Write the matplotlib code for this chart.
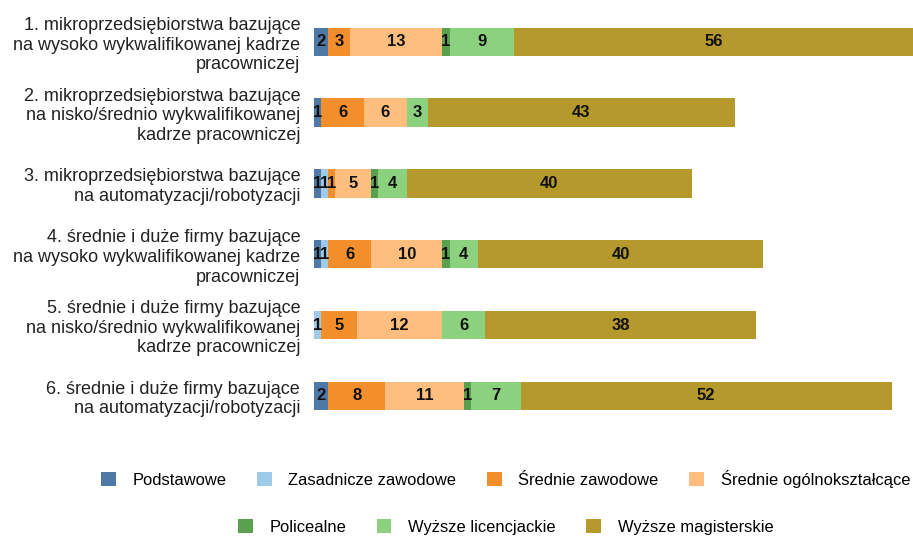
import numpy as np
import matplotlib
matplotlib.use("Agg")
import matplotlib.pyplot as plt
from matplotlib.patches import Patch

plt.rcParams['font.family'] = ['Liberation Sans', 'DejaVu Sans']

# categories (top to bottom)
categories = [
    "1. mikroprzedsiębiorstwa bazujące\nna wysoko wykwalifikowanej kadrze\npracowniczej",
    "2. mikroprzedsiębiorstwa bazujące\nna nisko/średnio wykwalifikowanej\nkadrze pracowniczej",
    "3. mikroprzedsiębiorstwa bazujące\nna automatyzacji/robotyzacji",
    "4. średnie i duże firmy bazujące\nna wysoko wykwalifikowanej kadrze\npracowniczej",
    "5. średnie i duże firmy bazujące\nna nisko/średnio wykwalifikowanej\nkadrze pracowniczej",
    "6. średnie i duże firmy bazujące\nna automatyzacji/robotyzacji",
]

series_names = ["Podstawowe", "Zasadnicze zawodowe", "Średnie zawodowe",
                "Średnie ogólnokształcące", "Policealne", "Wyższe licencjackie",
                "Wyższe magisterskie"]

podstawowe = [2, 1, 1, 1, 0, 2]
zasadnicze = [0, 0, 1, 1, 1, 0]
sr_zawodowe = [3, 6, 1, 6, 5, 8]
sr_ogolne = [13, 6, 5, 10, 12, 11]
policealne = [1, 0, 1, 1, 0, 1]
licencjackie = [9, 3, 4, 4, 6, 7]
magisterskie = [56, 43, 40, 40, 38, 52]

colors = ["#4E79A7", "#A0CBE8", "#F28E2B", "#FFBE7D", "#59A14F", "#8CD17D", "#B6992D"]

series = [podstawowe, zasadnicze, sr_zawodowe, sr_ogolne, policealne,
          licencjackie, magisterskie]

fig = plt.figure(figsize=(9.13, 5.37), dpi=100)
ax = fig.add_axes([0.344, 0.197, 0.656, 0.791])

y = np.arange(len(categories))
left = np.zeros(len(categories))
for vals, col in zip(series, colors):
    vals = np.array(vals, dtype=float)
    bars = ax.barh(y, vals, left=left, color=col, height=0.4)
    for b, v in zip(bars, vals):
        if v > 0:
            ax.text(b.get_x() + b.get_width() / 2, b.get_y() + b.get_height() / 2,
                    f"{int(v)}", ha="center", va="center", fontsize=12,
                    fontweight="bold", color="#111111")
    left += vals

ax.set_xlim(0, 84)
ax.set_ylim(len(categories) - 0.5, -0.5)
ax.set_yticks(y)
ax.set_yticklabels(categories, fontsize=13, color="#222222", linespacing=1.2)
ax.tick_params(axis="y", length=0, pad=10)
ax.set_xticks([])
for s in ax.spines.values():
    s.set_visible(False)

handles = [Patch(facecolor=c, edgecolor="none") for c in colors]
leg_kw = dict(frameon=False, fontsize=11.9, handlelength=0.9, handleheight=0.9,
              handletextpad=1.0, columnspacing=1.85, borderpad=0.1, loc="center")
fig.legend(handles[:4], series_names[:4], ncol=4,
           bbox_to_anchor=(0.5537, 0.108), **leg_kw)
fig.legend(handles[4:], series_names[4:], ncol=3,
           bbox_to_anchor=(0.5537, 0.019), **leg_kw)

fig.savefig("out.png", dpi=100)
